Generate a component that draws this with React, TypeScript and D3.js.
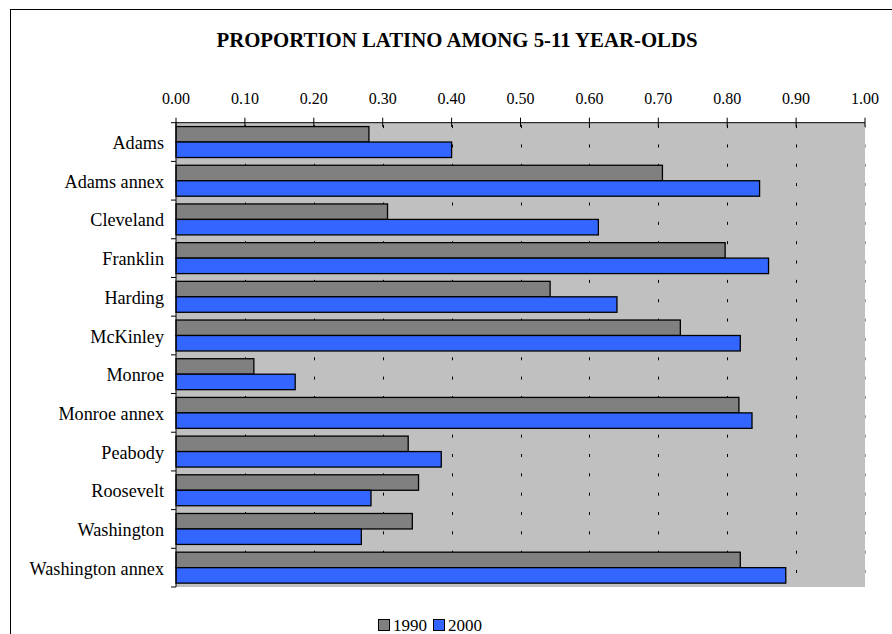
import React from "react";
import * as d3 from "d3";

const schools = [
  "Adams", "Adams annex", "Cleveland", "Franklin", "Harding", "McKinley",
  "Monroe", "Monroe annex", "Peabody", "Roosevelt", "Washington", "Washington annex",
];
const years = ["1990", "2000"];
const values1990 = [0.28, 0.706, 0.307, 0.797, 0.543, 0.732, 0.113, 0.817, 0.337, 0.352, 0.343, 0.819];
const values2000 = [0.40, 0.847, 0.613, 0.860, 0.640, 0.819, 0.173, 0.836, 0.385, 0.283, 0.269, 0.885];
const tickValues = [0, 0.1, 0.2, 0.3, 0.4, 0.5, 0.6, 0.7, 0.8, 0.9, 1.0];
const colors = ["#808080", "#3366FF"];

const font = "'Liberation Serif', 'Times New Roman', serif";

export default function App() {
  const width = 892;
  const height = 634;
  const plot = { left: 176, right: 865, top: 122.7, bottom: 587 };

  const x = d3.scaleLinear().domain([0, 1]).range([plot.left, plot.right]);
  const y = d3.scaleBand().domain(schools).range([plot.top, plot.bottom]).padding(0);
  const inner = d3.scaleBand().domain(years).range([0, y.bandwidth()]).paddingInner(0).paddingOuter(0.25);

  const series = [values1990, values2000];
  const period = y.bandwidth() / 2;

  return (
    <svg width={width} height={height} style={{ position: "absolute", left: 0, top: 0 }} fontFamily={font}>
      <rect x={0} y={0} width={width} height={height} fill="#fff" />
      {/* outer chart border, runs off the page on right and bottom */}
      <rect x={10.5} y={9.5} width={1000} height={1000} fill="none" stroke="#000" strokeWidth={1} />

      <text x={457} y={47} textAnchor="middle" fontSize={20.8} fontWeight="bold">
        PROPORTION LATINO AMONG 5-11 YEAR-OLDS
      </text>

      {/* plot area */}
      <rect x={plot.left} y={plot.top} width={plot.right - plot.left} height={plot.bottom - plot.top} fill="#C0C0C0" />

      {/* dashed gridlines */}
      {tickValues.slice(1).map((t) => (
        <line
          key={t}
          x1={Math.round(x(t)) + 0.5}
          x2={Math.round(x(t)) + 0.5}
          y1={plot.top}
          y2={plot.bottom}
          stroke={t === 1 ? "#999" : "#000"}
          strokeWidth={1}
          strokeDasharray={`3 ${period - 3}`}
          strokeDashoffset={-2.4}
        />
      ))}

      {/* bars */}
      {schools.map((s, i) => (
        <g key={s} transform={`translate(0, ${y(s)})`}>
          {years.map((yr, j) => (
            <rect
              key={yr}
              x={x(0)}
              y={inner(yr)}
              width={x(series[j][i]) - x(0)}
              height={inner.bandwidth()}
              fill={colors[j]}
              stroke="#000"
              strokeWidth={1.3}
            />
          ))}
        </g>
      ))}

      {/* top axis */}
      <line x1={plot.left} x2={plot.right} y1={plot.top} y2={plot.top} stroke="#000" />
      {tickValues.map((t) => (
        <g key={t}>
          <line x1={x(t)} x2={x(t)} y1={plot.top - 5} y2={plot.top + 4} stroke="#000" />
          <text x={x(t)} y={104} textAnchor="middle" fontSize={16}>
            {d3.format(".2f")(t)}
          </text>
        </g>
      ))}

      {/* left axis */}
      <line x1={plot.left} x2={plot.left} y1={plot.top} y2={plot.bottom} stroke="#000" />
      {schools.map((s) => (
        <line key={s} x1={plot.left - 5} x2={plot.left} y1={y(s)} y2={y(s)} stroke="#000" />
      ))}
      <line x1={plot.left - 5} x2={plot.left} y1={plot.bottom} y2={plot.bottom} stroke="#000" />
      {schools.map((s) => (
        <text key={s} x={164} y={(y(s) as number) + y.bandwidth() / 2 + 7} textAnchor="end" fontSize={18.2}>
          {s}
        </text>
      ))}

      {/* legend */}
      <g transform="translate(378, 619)">
        {years.map((yr, j) => (
          <g key={yr} transform={`translate(${j * 55}, 0)`}>
            <rect x={0.5} y={0.5} width={11} height={11} fill={colors[j]} stroke="#000" />
            <text x={15} y={11.5} fontSize={17}>{yr}</text>
          </g>
        ))}
      </g>
    </svg>
  );
}
